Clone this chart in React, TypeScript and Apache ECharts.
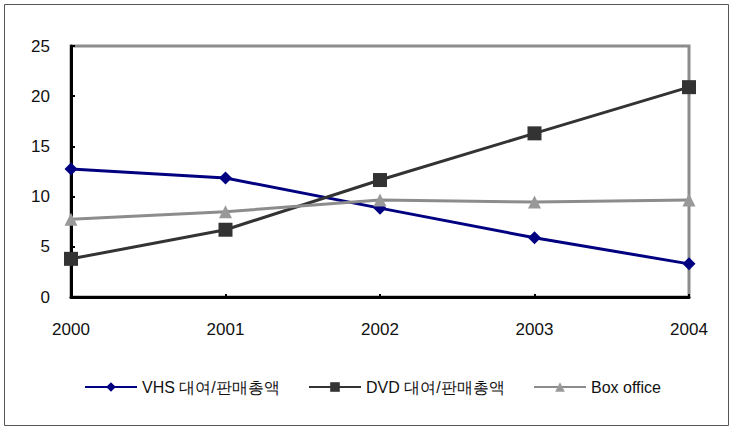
import React, { useEffect, useRef } from "react";
import * as echarts from "echarts";

const years = ["2000", "2001", "2002", "2003", "2004"];
const vhs = [12.75, 11.85, 8.85, 5.9, 3.3];
const dvd = [3.8, 6.7, 11.65, 16.3, 20.9];
const boxOffice = [7.75, 8.5, 9.65, 9.45, 9.65];
const seriesNames = ["VHS 대여/판매총액", "DVD 대여/판매총액", "Box office"];

export default function App() {
  const ref = useRef<HTMLDivElement>(null);
  useEffect(() => {
    const chart = echarts.init(ref.current!, null, { renderer: "svg" });
    const font = "Liberation Sans, Arial, sans-serif";
    const legendBase = {
      top: 374,
      itemWidth: 52,
      itemHeight: 12,
      textStyle: { fontFamily: font, fontSize: 16, color: "#111" },
    };
    chart.setOption({
      animation: false,
      backgroundColor: "#fff",
      graphic: [
        {
          type: "rect",
          shape: { x: 4.5, y: 4.5, width: 724, height: 421 },
          style: { fill: "none", stroke: "#555", lineWidth: 1 },
          z: -10,
        },
      ],
      grid: {
        left: 71,
        right: 40,
        top: 46,
        bottom: 131,
        show: true,
        borderColor: "#8c8c8c",
        borderWidth: 3,
        backgroundColor: "transparent",
      },
      legend: [
        { ...legendBase, left: 79, data: [seriesNames[0]] },
        { ...legendBase, left: 303, data: [seriesNames[1]] },
        { ...legendBase, left: 528, data: [seriesNames[2]] },
      ],
      xAxis: {
        type: "category",
        data: years,
        boundaryGap: false,
        axisLine: { lineStyle: { color: "#000", width: 3 } },
        axisTick: { inside: true, length: 3, lineStyle: { color: "#000", width: 2 } },
        axisLabel: { margin: 24, fontFamily: font, fontSize: 17, color: "#111" },
        splitLine: { show: false },
      },
      yAxis: {
        type: "value",
        min: 0,
        max: 25,
        interval: 5,
        axisLine: { show: true, lineStyle: { color: "#000", width: 3 } },
        axisTick: { show: true, inside: true, length: 4, lineStyle: { color: "#000", width: 2 } },
        axisLabel: { margin: 21, fontFamily: font, fontSize: 17, color: "#111" },
        splitLine: { show: false },
      },
      series: [
        {
          name: seriesNames[0],
          type: "line",
          data: vhs,
          symbol: "diamond",
          symbolSize: 13,
          itemStyle: { color: "#000080" },
          lineStyle: { color: "#000080", width: 3 },
          z: 3,
        },
        {
          name: seriesNames[1],
          type: "line",
          data: dvd,
          symbol: "rect",
          symbolSize: 14,
          itemStyle: { color: "#333333" },
          lineStyle: { color: "#333333", width: 3 },
          z: 4,
        },
        {
          name: seriesNames[2],
          type: "line",
          data: boxOffice,
          symbol: "triangle",
          symbolSize: 13,
          itemStyle: { color: "#999999" },
          lineStyle: { color: "#8c8c8c", width: 3 },
          z: 5,
        },
      ],
    });
    return () => chart.dispose();
  }, []);
  return <div ref={ref} style={{ width: 729, height: 428, position: "absolute", left: 0, top: 0 }} />;
}
